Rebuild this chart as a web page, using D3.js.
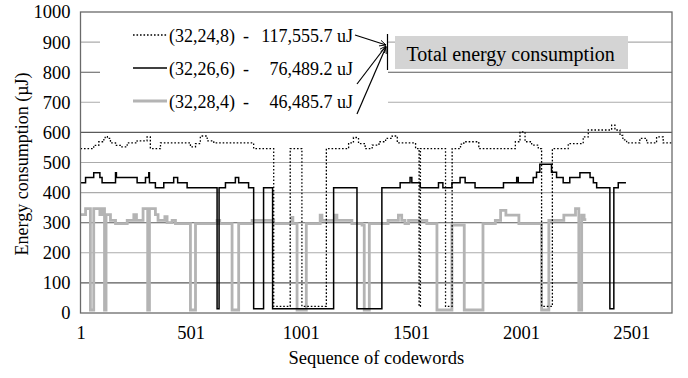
<!DOCTYPE html>
<html>
<head>
<meta charset="utf-8">
<script src="https://cdn.jsdelivr.net/npm/d3@7/dist/d3.min.js"></script>
<style>
  html, body { margin: 0; padding: 0; background: #fff; }
  svg { display: block; font-family: "Liberation Serif", "Times New Roman", serif; }
</style>
</head>
<body>
<svg id="chart" width="688" height="378"></svg>
<script>
// Codeword index range and axis ticks
const codewordRange = [1, 2686];
const xTickValues = [1, 501, 1001, 1501, 2001, 2501];
const yTickValues = [0, 100, 200, 300, 400, 500, 600, 700, 800, 900, 1000];
const darkGridValues = [100, 300, 600, 800];

// Code configurations and their total energy
const codeNames = ["(32,24,8)", "(32,26,6)", "(32,28,4)"];
const codeTotals = ["117,555.7 uJ", "76,489.2 uJ", "46,485.7 uJ"];

// Energy per codeword as steps: [first codeword of the step, energy in µJ]
const energy24_8 = [
  [1,546],[61,557],[84,569],[107,580],[113,586],[123,580],[137,565],[160,557],[182,552],
  [213,565],[258,572],[303,585],[318,546],[364,565],[500,552],[523,563],[545,588],[576,572],
  [606,565],[787,546],[878,22],[953,546],[1006,22],[1117,546],[1218,565],[1240,583],[1263,563],
  [1293,546],[1325,558],[1356,569],[1386,580],[1416,588],[1439,565],[1522,546],[1538,22],
  [1544,546],[1658,22],[1688,546],[1726,561],[1741,569],[1809,546],[1975,569],[1996,602],
  [2019,569],[2049,558],[2079,546],[2094,22],[2143,546],[2215,563],[2283,585],[2306,608],
  [2412,624],[2427,608],[2450,590],[2463,575],[2480,565],[2540,580],[2571,565],[2616,585],
  [2646,565],[2686,565]
];
const energy26_6 = [
  [1,433],[24,450],[61,466],[89,450],[99,433],[160,466],[164,450],[258,433],[296,450],
  [311,466],[314,433],[341,416],[379,433],[424,450],[442,433],[485,416],[621,14],[630,416],
  [659,433],[704,450],[719,433],[764,416],[787,14],[832,416],[873,14],[1150,416],[1256,14],
  [1369,416],[1452,433],[1497,450],[1505,433],[1543,416],[1626,433],[1646,416],[1687,433],
  [1724,450],[1747,433],[1792,416],[1921,433],[1981,450],[1988,433],[2056,450],[2071,468],
  [2086,494],[2139,468],[2162,450],[2192,433],[2222,450],[2268,466],[2314,450],[2329,433],
  [2344,416],[2404,14],[2422,416],[2442,433],[2477,433]
];
const energy28_4 = [
  [1,327],[24,347],[46,10],[61,347],[89,327],[101,347],[110,10],[117,327],[137,308],
  [160,297],[213,308],[243,327],[255,308],[285,347],[306,10],[314,347],[341,327],[353,308],
  [384,320],[394,300],[417,308],[432,297],[500,10],[523,297],[621,308],[633,297],[689,10],
  [719,297],[780,308],[878,297],[961,318],[965,297],[984,10],[1026,297],[1089,325],[1097,308],
  [1157,325],[1165,308],[1233,297],[1279,292],[1289,10],[1312,297],[1397,308],[1444,325],
  [1459,308],[1474,297],[1490,308],[1573,297],[1619,10],[1687,292],[1743,10],[1828,297],
  [1884,308],[1908,341],[1932,325],[1991,297],[2094,10],[2127,308],[2195,325],[2248,347],
  [2263,10],[2276,325],[2287,310],[2297,310]
];

const svg = d3.select("#chart");
const plot = { left: 80.5, right: 672, top: 12, bottom: 313 };

const x = d3.scaleLinear().domain(codewordRange).range([plot.left, plot.right]);
const y = d3.scaleLinear().domain([0, 1000]).range([plot.bottom, plot.top]);

// Horizontal gridlines
svg.append("g").selectAll("line")
  .data(yTickValues.filter(v => v > 0 && v < 1000))
  .join("line")
  .attr("x1", plot.left).attr("x2", plot.right)
  .attr("y1", d => y(d)).attr("y2", d => y(d))
  .attr("stroke", d => darkGridValues.includes(d) ? "#5a5a5a" : "#ababab")
  .attr("stroke-width", 1.1);

// Y axis labels
const yAxis = d3.axisLeft(y).tickValues(yTickValues).tickSize(0).tickPadding(10).tickFormat(d3.format("d"));
const gy = svg.append("g").attr("transform", `translate(${plot.left},0)`).call(yAxis);
gy.select(".domain").remove();
gy.selectAll("text").attr("font-size", 18.5).attr("font-family", "Liberation Serif").attr("fill", "#000");

// X axis labels
const xAxis = d3.axisBottom(x).tickValues(xTickValues).tickSize(0).tickPadding(13).tickFormat(d3.format("d"));
const gx = svg.append("g").attr("transform", `translate(0,${plot.bottom})`).call(xAxis);
gx.select(".domain").remove();
gx.selectAll("text").attr("font-size", 18.5).attr("font-family", "Liberation Serif").attr("fill", "#000");

// Axis titles
svg.append("text")
  .attr("x", (plot.left + plot.right) / 2).attr("y", 364)
  .attr("text-anchor", "middle").attr("font-size", 18.5)
  .text("Sequence of codewords");
svg.append("text")
  .attr("transform", "translate(28,164) rotate(-90)")
  .attr("text-anchor", "middle").attr("font-size", 18)
  .text("Energy consumption (µJ)");

// Step lines for each configuration
const stepLine = d3.line()
  .x(d => x(d[0]))
  .y(d => y(d[1]))
  .curve(d3.curveStepAfter);

const styles = [
  { data: energy28_4, stroke: "#b4b4b4", width: 2.8, dash: null },
  { data: energy26_6, stroke: "#000", width: 1.5, dash: null },
  { data: energy24_8, stroke: "#000", width: 1.3, dash: "1.6,1.9" }
];
svg.append("g").selectAll("path")
  .data(styles)
  .join("path")
  .attr("d", d => stepLine(d.data))
  .attr("fill", "none")
  .attr("stroke", d => d.stroke)
  .attr("stroke-width", d => d.width)
  .attr("stroke-dasharray", d => d.dash);

// Plot frame
svg.append("rect")
  .attr("x", plot.left).attr("y", plot.top)
  .attr("width", plot.right - plot.left).attr("height", plot.bottom - plot.top)
  .attr("fill", "none").attr("stroke", "#6a6a6a").attr("stroke-width", 1.3);

// Legend panel
svg.append("rect").attr("x", 100).attr("y", 16).attr("width", 288).attr("height", 102).attr("fill", "#fff");

const legendRows = [
  { name: codeNames[0], total: codeTotals[0], stroke: "#000", width: 1.3, dash: "1.6,1.9", cy: 35 },
  { name: codeNames[1], total: codeTotals[1], stroke: "#000", width: 1.5, dash: null, cy: 68 },
  { name: codeNames[2], total: codeTotals[2], stroke: "#b4b4b4", width: 2.8, dash: null, cy: 101 }
];
const lg = svg.append("g").selectAll("g").data(legendRows).join("g");
lg.append("line")
  .attr("x1", 133).attr("x2", 167)
  .attr("y1", d => d.cy).attr("y2", d => d.cy)
  .attr("stroke", d => d.stroke).attr("stroke-width", d => d.width)
  .attr("stroke-dasharray", d => d.dash);
lg.append("text").attr("x", 169).attr("y", d => d.cy + 6.5).attr("font-size", 18).text(d => d.name);
lg.append("text").attr("x", 243).attr("y", d => d.cy + 6.5).attr("font-size", 18).text("-");
lg.append("text").attr("x", 353).attr("y", d => d.cy + 6.5).attr("font-size", 18)
  .attr("text-anchor", "end").text(d => d.total);

// Callout arrows pointing to the total label
svg.append("defs").append("marker")
  .attr("id", "arrow").attr("viewBox", "0 0 8 8").attr("refX", 7.5).attr("refY", 4)
  .attr("markerWidth", 7).attr("markerHeight", 7).attr("markerUnits", "userSpaceOnUse")
  .attr("orient", "auto")
  .append("path").attr("d", "M0,0.5 L7.5,4 L0,7.5").attr("fill", "none").attr("stroke", "#000").attr("stroke-width", 1);

const arrows = [[355, 35, 386, 45], [357, 84, 386, 46], [357, 114, 386, 47]];
svg.append("g").selectAll("line").data(arrows).join("line")
  .attr("x1", d => d[0]).attr("y1", d => d[1]).attr("x2", d => d[2]).attr("y2", d => d[3])
  .attr("stroke", "#000").attr("stroke-width", 1.2).attr("marker-end", "url(#arrow)");

svg.append("line").attr("x1", 387.5).attr("x2", 387.5).attr("y1", 34).attr("y2", 70)
  .attr("stroke", "#000").attr("stroke-width", 1.2);

svg.append("rect").attr("x", 395).attr("y", 36).attr("width", 233).attr("height", 33).attr("fill", "#d4d4d4");
svg.append("text").attr("x", 406.5).attr("y", 60.5).attr("font-size", 20).text("Total energy consumption");
</script>
</body>
</html>
